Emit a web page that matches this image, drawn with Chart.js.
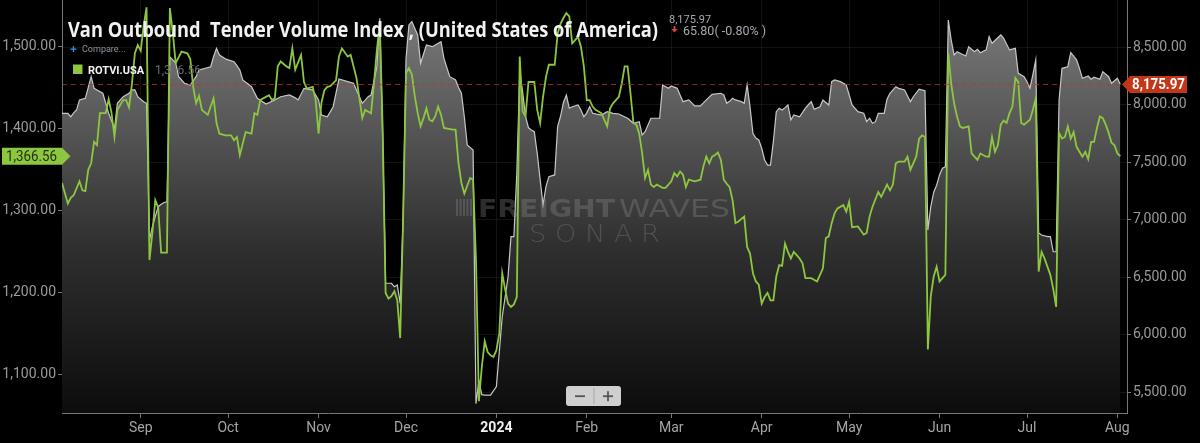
<!DOCTYPE html>
<html>
<head>
<meta charset="utf-8">
<title>Van Outbound Tender Volume Index</title>
<script src="https://cdn.jsdelivr.net/npm/chart.js@4.4.1/dist/chart.umd.min.js"></script>
<style>
  html, body { margin: 0; padding: 0; background: #000; }
  #wrap { width: 1200px; height: 443px; }
</style>
</head>
<body>
<div id="wrap"><canvas id="chart" width="1200" height="443"></canvas></div>
<script>
// day offsets are counted from startDate
var startDate = '2023-08-05';

// VOTVI.USA (grey area, right axis)
var votviDays = [
  0, 2, 3, 4, 5, 6, 8, 10, 11, 12,
  14, 16, 18, 19, 21, 23, 24, 25, 26, 28,
  29, 30, 31, 32, 33, 34, 35, 36, 37, 38,
  39, 40, 42, 44, 46, 47, 51, 52, 53, 54,
  56, 57, 59, 60, 61, 62, 65, 67, 70, 73,
  75, 78, 80, 81, 83, 86, 88, 89, 91, 93,
  95, 98, 100, 102, 103, 104, 105, 106, 108, 109,
  110, 111, 113, 114, 115, 116, 117, 118, 119, 120,
  122, 123, 125, 127, 130, 131, 133, 135, 136, 137,
  138, 139, 141, 142, 143, 144, 145, 147, 149, 151,
  152, 153, 154, 155, 156, 157, 158, 159, 160, 161,
  162, 163, 164, 165, 166, 167, 169, 170, 171, 172,
  173, 174, 175, 177, 178, 179, 180, 181, 182, 185,
  187, 189, 191, 194, 196, 198, 199, 200, 202, 205,
  206, 208, 209, 211, 213, 215, 217, 219, 221, 223,
  226, 227, 228, 229, 230, 231, 233, 234, 235, 236,
  237, 238, 239, 240, 241, 242, 243, 244, 245, 246,
  247, 248, 249, 250, 251, 253, 255, 256, 257, 258,
  260, 261, 262, 263, 264, 265, 267, 269, 271, 273,
  275, 276, 277, 278, 279, 280, 282, 283, 284, 286,
  287, 289, 291, 292, 294, 296, 297, 298, 299, 300,
  301, 302, 303, 304, 305, 306, 307, 310, 311, 313,
  314, 315, 317, 318, 319, 322, 323, 325, 327, 328,
  330, 331, 332, 333, 334, 335, 336, 338, 339, 340,
  341, 342, 343, 345, 346, 348, 349, 350, 352, 353,
  354, 356, 357, 359, 360, 362, 363
];
var votviValues = [
  7926, 7926, 7896, 7930, 7955, 8042, 8056, 8244, 8143, 8129,
  8100, 7926, 7796, 8013, 8070, 8100, 8129, 8129, 8070, 8027,
  8013, 6824, 6940, 7030, 7114, 7135, 7150, 7157, 8416, 8390,
  8363, 8244, 8187, 8172, 8244, 8303, 8331, 8420, 8491, 8433,
  8400, 8390, 8375, 8340, 8303, 8216, 8157, 8056, 8007, 8042,
  8070, 8085, 8060, 8042, 8143, 8129, 8042, 7911, 7896, 7983,
  8224, 8201, 8187, 8070, 8013, 8040, 8070, 8085, 8331, 8752,
  7700, 6448, 6448, 6418, 6433, 6274, 7000, 8400, 8694, 8723,
  8607, 8361, 8520, 8505, 8549, 8404, 8244, 8216, 8150, 8100,
  7896, 7650, 7607, 5400, 5600, 5480, 5476, 5476, 5549, 6157,
  6330, 6505, 6853, 6853, 7400, 8274, 8114, 7896, 7800, 7781,
  7766, 7578, 7350, 7129, 7288, 7375, 7390, 7810, 7900, 8020,
  8085, 7970, 7983, 7998, 7955, 7896, 7930, 7983, 7926, 7911,
  7940, 7926, 7920, 7883, 7839, 7853, 7737, 7766, 7883, 7883,
  8172, 8143, 8163, 8143, 8027, 8042, 7990, 7990, 8042, 8091,
  8100, 8085, 8013, 8030, 8056, 8042, 8027, 8013, 8172, 7980,
  7750, 7710, 7694, 7622, 7520, 7476, 7476, 7679, 7940, 7970,
  7955, 7975, 7998, 7868, 7911, 7896, 7970, 8000, 8027, 7961,
  7983, 8042, 8020, 7998, 8201, 8216, 8201, 8172, 7998, 7940,
  7926, 7853, 7883, 7839, 7853, 7926, 7926, 8050, 8100, 8157,
  8143, 8129, 8027, 8070, 8135, 8123, 6911, 7114, 7240, 7300,
  7390, 7448, 7460, 8737, 8563, 8433, 8462, 8424, 8505, 8462,
  8483, 8453, 8477, 8592, 8535, 8607, 8578, 8477, 8491, 8274,
  8244, 8200, 8143, 8259, 8390, 6885, 6868, 6853, 6853, 6722,
  6722, 8042, 8317, 8331, 8453, 8390, 8317, 8230, 8250, 8222,
  8239, 8222, 8288, 8244, 8187, 8230, 8175.97
];

// ROTVI.USA (green line, left axis)
var rotviDays = [
  0, 2, 3, 4, 6, 7, 8, 9, 10, 11,
  12, 13, 15, 16, 17, 18, 19, 21, 22, 23,
  24, 25, 26, 27, 28, 29, 30, 31, 32, 33,
  34, 36, 37, 38, 39, 41, 43, 44, 45, 46,
  47, 48, 50, 52, 53, 54, 56, 58, 59, 60,
  61, 62, 63, 65, 66, 67, 68, 69, 71, 72,
  73, 74, 75, 77, 78, 79, 80, 82, 83, 84,
  86, 87, 88, 89, 90, 91, 92, 94, 95, 96,
  98, 99, 101, 103, 104, 106, 107, 108, 109, 110,
  111, 112, 113, 114, 115, 116, 117, 118, 119, 120,
  121, 122, 123, 124, 125, 126, 127, 128, 129, 130,
  131, 134, 135, 136, 137, 138, 140, 141, 142, 143,
  144, 145, 146, 147, 148, 149, 150, 151, 152, 153,
  154, 155, 156, 157, 158, 159, 160, 162, 163, 164,
  165, 166, 167, 169, 170, 171, 172, 173, 174, 175,
  177, 178, 179, 180, 181, 182, 183, 185, 187, 188,
  189, 191, 192, 193, 194, 195, 196, 197, 198, 199,
  200, 201, 202, 203, 204, 206, 207, 208, 209, 210,
  211, 212, 213, 214, 215, 217, 219, 220, 221, 222,
  223, 224, 225, 226, 227, 228, 229, 230, 231, 232,
  234, 235, 236, 237, 238, 239, 240, 241, 242, 243,
  244, 245, 246, 247, 248, 249, 250, 251, 252, 253,
  254, 255, 257, 259, 261, 262, 263, 264, 265, 266,
  268, 269, 270, 271, 273, 275, 276, 277, 278, 280,
  281, 283, 284, 285, 286, 287, 289, 290, 291, 293,
  294, 295, 296, 297, 298, 299, 300, 301, 302, 303,
  304, 305, 306, 307, 308, 309, 311, 312, 314, 315,
  317, 318, 319, 320, 321, 322, 323, 324, 325, 326,
  327, 328, 329, 330, 332, 333, 334, 335, 336, 337,
  338, 339, 340, 341, 342, 343, 344, 345, 346, 347,
  348, 349, 350, 351, 352, 353, 354, 355, 356, 357,
  358, 359, 360, 361, 362, 363
];
var rotviValues = [
  1334, 1309, 1316, 1319, 1336, 1325, 1324, 1350, 1358, 1384,
  1380, 1419, 1419, 1436, 1419, 1390, 1423, 1435, 1435, 1426,
  1455, 1492, 1502, 1495, 1525, 1548, 1240, 1273, 1313, 1304,
  1249, 1249, 1547, 1517, 1480, 1494, 1492, 1485, 1451, 1431,
  1440, 1423, 1417, 1437, 1407, 1394, 1392, 1392, 1386, 1390,
  1368, 1382, 1396, 1394, 1419, 1417, 1435, 1437, 1441, 1435,
  1437, 1476, 1482, 1476, 1474, 1498, 1472, 1490, 1457, 1449,
  1451, 1435, 1394, 1432, 1447, 1451, 1452, 1459, 1488, 1498,
  1488, 1490, 1462, 1413, 1423, 1419, 1455, 1496, 1528, 1400,
  1200, 1193, 1196, 1202, 1191, 1145, 1290, 1468, 1474, 1466,
  1440, 1419, 1403, 1413, 1425, 1411, 1409, 1415, 1427, 1417,
  1401, 1399, 1399, 1358, 1334, 1321, 1340, 1338, 1240, 1068,
  1110, 1141, 1128, 1124, 1122, 1130, 1151, 1224, 1204, 1187,
  1183, 1186, 1195, 1488, 1421, 1415, 1457, 1457, 1423, 1407,
  1439, 1463, 1478, 1478, 1516, 1528, 1535, 1541, 1537, 1504,
  1512, 1500, 1476, 1435, 1435, 1427, 1423, 1419, 1403, 1425,
  1431, 1439, 1455, 1476, 1476, 1443, 1407, 1405, 1394, 1370,
  1340, 1350, 1332, 1329, 1332, 1328, 1328, 1332, 1336, 1346,
  1342, 1348, 1344, 1329, 1338, 1336, 1338, 1354, 1366, 1358,
  1366, 1368, 1371, 1362, 1338, 1333, 1329, 1313, 1285, 1287,
  1293, 1256, 1248, 1224, 1214, 1210, 1187, 1195, 1200, 1191,
  1191, 1220, 1234, 1233, 1260, 1250, 1242, 1250, 1246, 1242,
  1236, 1218, 1218, 1214, 1230, 1267, 1269, 1285, 1297, 1303,
  1307, 1299, 1311, 1280, 1281, 1271, 1273, 1293, 1305, 1323,
  1317, 1332, 1325, 1332, 1358, 1360, 1360, 1366, 1350, 1366,
  1388, 1392, 1390, 1131, 1196, 1220, 1232, 1214, 1218, 1222,
  1492, 1455, 1431, 1415, 1403, 1401, 1403, 1370, 1362, 1370,
  1366, 1366, 1390, 1372, 1380, 1405, 1410, 1407, 1419, 1427,
  1462, 1457, 1407, 1405, 1411, 1423, 1437, 1226, 1250, 1242,
  1232, 1222, 1205, 1183, 1395, 1388, 1390, 1403, 1388, 1396,
  1378, 1372, 1366, 1372, 1363, 1384, 1384, 1401, 1415, 1413,
  1405, 1395, 1383, 1380, 1370, 1366.56
];

var monthStarts = ['2023-09-01', '2023-10-01', '2023-11-01', '2023-12-01', '2024-01-01', '2024-02-01',
                   '2024-03-01', '2024-04-01', '2024-05-01', '2024-06-01', '2024-07-01', '2024-08-01'];
var monthLabels = ['Sep', 'Oct', 'Nov', 'Dec', '2024', 'Feb', 'Mar', 'Apr', 'May', 'Jun', 'Jul', 'Aug'];
var leftTicks = [1100, 1200, 1300, 1400, 1500];
var rightTicks = [5500, 6000, 6500, 7000, 7500, 8000, 8500];

var lastVotvi = votviValues[votviValues.length - 1];
var lastRotvi = rotviValues[rotviValues.length - 1];
var change = 65.80, changePct = -0.80;

function dayOf(s) {
    return Math.round((Date.parse(s) - Date.parse(startDate)) / 86400000);
}
var monthDays = monthStarts.map(dayOf);
var yearDay = dayOf('2024-01-01');

function fmt(v) {
    return v.toLocaleString('en-US', { minimumFractionDigits: 2, maximumFractionDigits: 2 });
}

// draw text squeezed/stretched to a given width
function drawFitted(c, text, x, y, width) {
    var w = c.measureText(text).width || 1;
    c.save();
    c.translate(x, y);
    c.scale(width / w, 1);
    c.fillText(text, 0, 0);
    c.restore();
}

var overlayPlugin = {
    id: 'overlay',
    afterDatasetsDraw: function (chart) {
        var c = chart.ctx, area = chart.chartArea;
        var yR = chart.scales.yRight.getPixelForValue(lastVotvi);
        c.save();
        // last value dashed line
        c.strokeStyle = 'rgba(190,55,35,0.75)';
        c.lineWidth = 1;
        c.setLineDash([5, 4]);
        c.beginPath();
        c.moveTo(area.left, yR);
        c.lineTo(area.right, yR);
        c.stroke();
        c.setLineDash([]);

        // watermark
        c.fillStyle = 'rgba(150,150,150,0.30)';
        c.textAlign = 'left';
        c.textBaseline = 'alphabetic';
        for (var k = 0; k < 5; k++) {
            c.fillRect(456 + k * 3.5, 199, 2, 17);
        }
        c.font = 'bold 24px "DejaVu Sans"';
        drawFitted(c, 'FREIGHT', 478, 217, 137);
        c.font = '24px "DejaVu Sans"';
        drawFitted(c, 'WAVES', 619, 217, 111);
        c.font = '200 24px "DejaVu Sans"';
        drawFitted(c, 'S O N A R', 529, 242, 131);
        c.restore();
    },
    afterDraw: function (chart) {
        var c = chart.ctx;
        c.save();
        c.textAlign = 'left';
        c.textBaseline = 'alphabetic';

        // title
        c.fillStyle = '#f2f2f2';
        c.font = 'bold 21px "Open Sans"';
        drawFitted(c, 'Van Outbound  Tender Volume Index , (United States of America)', 68, 37, 590);

        // last value + change
        c.fillStyle = '#a8a8b0';
        c.font = '11px Roboto';
        c.fillText(fmt(lastVotvi), 669, 23);
        c.fillStyle = '#e0443a';
        c.fillRect(673.6, 26, 1.8, 3.5);
        c.beginPath();
        c.moveTo(671.5, 29); c.lineTo(677.5, 29); c.lineTo(674.5, 32.5); c.closePath();
        c.fill();
        c.fillStyle = '#a8a8b0';
        c.font = '12.5px Roboto';
        c.fillText(change.toFixed(2) + '( ' + changePct.toFixed(2) + '% )', 683, 34.5);

        // compare + legend
        c.fillStyle = '#3d8fe0';
        c.fillRect(70.5, 48.5, 6, 1.3);
        c.fillRect(72.8, 46.2, 1.3, 6);
        c.fillStyle = '#8d949c';
        c.font = '9px Roboto';
        c.fillText('Compare...', 82, 52);
        c.fillStyle = '#8dc63f';
        c.fillRect(73, 64.5, 9.5, 9.5);
        c.fillStyle = '#f2f2f2';
        c.font = 'bold 11px Roboto';
        c.fillText('ROTVI.USA', 88, 73.5);
        c.fillStyle = '#6c6c6c';
        c.font = '12px Roboto';
        c.fillText(fmt(lastRotvi), 155, 74);

        // right value badge
        var yR = chart.scales.yRight.getPixelForValue(lastVotvi);
        c.fillStyle = '#c2361a';
        c.beginPath();
        c.moveTo(1122, yR);
        c.lineTo(1130, yR - 8.5);
        c.lineTo(1187, yR - 8.5);
        c.lineTo(1187, yR + 8.5);
        c.lineTo(1130, yR + 8.5);
        c.closePath();
        c.fill();
        c.fillStyle = '#ffffff';
        c.font = 'bold 15px Roboto';
        c.textBaseline = 'middle';
        drawFitted(c, fmt(lastVotvi), 1132, yR + 1, 53);

        // left value badge
        var yL = chart.scales.yLeft.getPixelForValue(lastRotvi);
        c.fillStyle = '#8dc63f';
        c.beginPath();
        c.moveTo(2, yL - 8.5);
        c.lineTo(62, yL - 8.5);
        c.lineTo(70.5, yL);
        c.lineTo(62, yL + 8.5);
        c.lineTo(2, yL + 8.5);
        c.closePath();
        c.fill();
        c.fillStyle = '#26301a';
        c.font = '15px Roboto';
        drawFitted(c, fmt(lastRotvi), 6, yL + 1, 51);

        // zoom buttons
        c.fillStyle = 'rgba(222,222,222,0.93)';
        c.beginPath();
        c.roundRect(566, 386, 55, 20, 3);
        c.fill();
        c.fillStyle = '#a8a8a8';
        c.fillRect(593.5, 388, 1, 16);
        c.fillStyle = '#555';
        c.fillRect(575, 395.3, 10, 1.8);
        c.fillRect(603, 395.3, 10, 1.8);
        c.fillRect(607.1, 391.2, 1.8, 10);
        c.restore();
    }
};

function areaGradient(context) {
    var chart = context.chart, area = chart.chartArea;
    if (!area) return 'rgba(90,90,90,0.9)';
    var g = chart.ctx.createLinearGradient(0, area.top, 0, area.bottom);
    g.addColorStop(0, '#7e7e7e');
    g.addColorStop(0.25, '#5e5e5e');
    g.addColorStop(0.6, '#2f2f2f');
    g.addColorStop(1, '#0c0c0c');
    return g;
}

Chart.defaults.font.family = 'Roboto';

new Chart(document.getElementById('chart'), {
    type: 'line',
    data: {
        datasets: [{
            label: 'ROTVI.USA',
            data: rotviDays.map(function (d, i) { return { x: d, y: rotviValues[i] }; }),
            yAxisID: 'yLeft',
            borderColor: '#8dc63f',
            borderWidth: 1.8,
            pointRadius: 0,
            fill: false,
            order: 1
        }, {
            label: 'VOTVI.USA',
            data: votviDays.map(function (d, i) { return { x: d, y: votviValues[i] }; }),
            yAxisID: 'yRight',
            borderColor: '#c8c8c8',
            borderWidth: 1.2,
            pointRadius: 0,
            fill: 'start',
            backgroundColor: areaGradient,
            order: 2
        }]
    },
    options: {
        responsive: false,
        animation: false,
        layout: { padding: 0 },
        plugins: {
            legend: { display: false },
            tooltip: { enabled: false }
        },
        scales: {
            x: {
                type: 'linear',
                min: 0,
                max: 365.3,
                z: 1,
                afterBuildTicks: function (axis) {
                    axis.ticks = monthDays.map(function (v) { return { value: v }; });
                },
                afterFit: function (axis) {
                    axis.height = 30;
                    axis.paddingLeft = 0;
                    axis.paddingRight = 0;
                },
                ticks: {
                    autoSkip: false,
                    maxRotation: 0,
                    padding: 2,
                    color: function (ctx) { return ctx.tick && ctx.tick.value === yearDay ? '#f0f0f0' : '#a5a5a5'; },
                    font: function (ctx) {
                        return ctx.tick && ctx.tick.value === yearDay ? { size: 14, weight: 'bold' } : { size: 14 };
                    },
                    callback: function (v) {
                        var k = monthDays.indexOf(v);
                        return k < 0 ? '' : monthLabels[k];
                    }
                },
                grid: { color: 'rgba(255,255,255,0.07)', tickColor: '#777', tickLength: 5 },
                border: { color: '#777' }
            },
            yLeft: {
                type: 'linear',
                position: 'left',
                min: 1053.7,
                max: 1556.9,
                afterBuildTicks: function (axis) {
                    axis.ticks = leftTicks.map(function (v) { return { value: v }; });
                },
                afterFit: function (axis) {
                    axis.width = 62;
                    axis.paddingTop = 0;
                    axis.paddingBottom = 0;
                },
                ticks: { color: '#9a9a9a', font: { size: 14 }, padding: 2, callback: fmt },
                grid: { drawOnChartArea: false, tickColor: '#777', tickLength: 4 },
                border: { color: '#777' }
            },
            yRight: {
                type: 'linear',
                position: 'right',
                min: 5320,
                max: 8911,
                z: 1,
                afterBuildTicks: function (axis) {
                    axis.ticks = rightTicks.map(function (v) { return { value: v }; });
                },
                afterFit: function (axis) {
                    axis.width = 73;
                    axis.paddingTop = 0;
                    axis.paddingBottom = 0;
                },
                ticks: { color: '#9a9a9a', font: { size: 14 }, padding: 2, callback: fmt },
                grid: { color: 'rgba(255,255,255,0.07)', tickColor: '#777', tickLength: 4 },
                border: { color: '#777' }
            }
        }
    },
    plugins: [overlayPlugin]
});
</script>
</body>
</html>
